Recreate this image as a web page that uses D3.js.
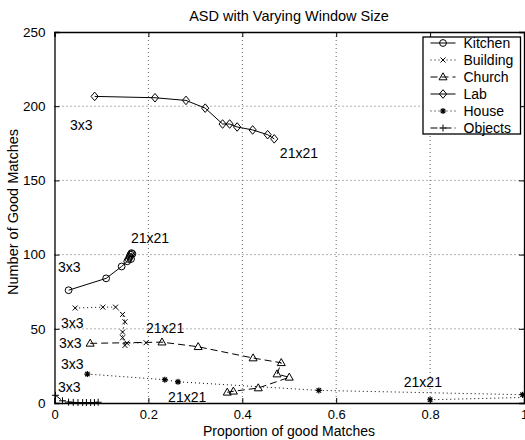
<!DOCTYPE html>
<html><head><meta charset="utf-8">
<script src="https://cdn.jsdelivr.net/npm/d3@7"></script>
<style>
body{margin:0;background:#fff;}
text{font-family:"Liberation Sans",Arial,sans-serif;fill:#000;}
</style></head>
<body><svg id="c" width="525" height="440"></svg>
<script>
const seriesNames = ["Kitchen","Building","Church","Lab","House","Objects"];
const kitchenX = [0.030,0.110,0.143,0.155,0.158,0.160,0.162,0.164,0.166,0.163];
const kitchenY = [76,84,92,95.5,97,98.5,100,101,100.5,97];
const buildingX = [0.044,0.103,0.130,0.145,0.150,0.145,0.145,0.150,0.154,0.195];
const buildingY = [64,64.6,64.6,59.7,54.7,47.8,44,38.8,40.4,40.6];
const churchX = [0.076,0.229,0.306,0.423,0.483,0.474,0.500,0.434,0.381,0.368];
const churchY = [40.2,41,37.9,30.3,27.1,19.5,17.3,10.1,7.9,7.2];
const labX = [0.0855,0.214,0.280,0.321,0.358,0.373,0.389,0.422,0.454,0.468];
const labY = [206.6,205.7,203.9,198.7,188,188,186,184,180.8,178];
const houseX = [0.070,0.235,0.263,0.563,0.997,1.06,1.10,1.05,1.02,0.800];
const houseY = [19.5,15.7,14.3,8.5,5.6,5.2,4.6,4.2,3.9,2.2];
const objectsX = [0.002,0.017,0.030,0.040,0.050,0.060,0.068,0.077,0.085,0.093];
const objectsY = [5.2,1.5,0.6,0.4,0.3,0.3,0.3,0.3,0.3,0.5];
const xTicks = [0,0.2,0.4,0.6,0.8,1];
const yTicks = [0,50,100,150,200,250];
const annText = ["3x3","21x21","3x3","21x21","3x3","21x21","3x3","21x21","3x3","21x21","3x3"];
const annX = [0.033,0.480,0.0075,0.163,0.014,0.195,0.0096,0.242,0.014,0.744,0.0075];
const annY = [184,165,88.3,107.8,50.5,47.2,37,0.7,22.9,10.8,7.4];

const svg = d3.select("#c");
const L=54.5,R=524,T=32,B=403;
const x = d3.scaleLinear().domain([0,1]).range([L,R]);
const y = d3.scaleLinear().domain([0,250]).range([B,T]);

// grid
const g = svg.append("g");
g.selectAll(".gx").data(xTicks.slice(1,-1)).enter().append("line")
 .attr("x1",d=>x(d)).attr("x2",d=>x(d)).attr("y1",T).attr("y2",B)
 .attr("stroke","#666").attr("stroke-width",1).attr("stroke-dasharray","1,3");
g.selectAll(".gy").data(yTicks.slice(1,-1)).enter().append("line")
 .attr("x1",L).attr("x2",R).attr("y1",d=>y(d)).attr("y2",d=>y(d))
 .attr("stroke","#666").attr("stroke-width",1).attr("stroke-dasharray","1,3");

// axes
const fmtX = d=> d===0?"0":(d===1?"1":d3.format(".1f")(d));
const ax = svg.append("g").attr("transform",`translate(0,${B})`)
 .call(d3.axisBottom(x).tickValues(xTicks).tickSize(-5).tickPadding(7).tickFormat(fmtX));
const ax2 = svg.append("g").attr("transform",`translate(0,${T})`)
 .call(d3.axisTop(x).tickValues(xTicks).tickSize(-5).tickFormat(""));
const ay = svg.append("g").attr("transform",`translate(${L},0)`)
 .call(d3.axisLeft(y).tickValues(yTicks).tickSize(-5).tickPadding(9));
const ay2 = svg.append("g").attr("transform",`translate(${R},0)`)
 .call(d3.axisRight(y).tickValues(yTicks).tickSize(-5).tickFormat(""));
[ax,ax2,ay,ay2].forEach(a=>{
  a.select(".domain").attr("stroke","#000").attr("stroke-width",1.3);
  a.selectAll(".tick line").attr("stroke","#000");
  a.selectAll("text").attr("font-size","13.5px").attr("font-family","Liberation Sans, Arial, sans-serif").attr("fill","#000");
});
ax.selectAll("text").attr("font-size","13px");

// clip
svg.append("clipPath").attr("id","clip").append("rect")
 .attr("x",L-6).attr("y",T).attr("width",R-L+6).attr("height",B-T+6);

const series = [
 {xs:kitchenX,ys:kitchenY,dash:null,m:"o"},
 {xs:buildingX,ys:buildingY,dash:"1,3",m:"x"},
 {xs:churchX,ys:churchY,dash:"7,4",m:"^"},
 {xs:labX,ys:labY,dash:null,m:"d"},
 {xs:houseX,ys:houseY,dash:"1,3",m:"*"},
 {xs:objectsX,ys:objectsY,dash:"7,3,1,3",m:"+"}
];

function marker(sel,m){
  const s=sel.append("g");
  if(m==="o") s.append("circle").attr("r",3.4).attr("fill","none").attr("stroke","#000");
  if(m==="x") s.append("path").attr("d","M-2.5,-2.5L2.5,2.5M-2.5,2.5L2.5,-2.5").attr("stroke","#000");
  if(m==="^") s.append("path").attr("d","M0,-4.2L4,2.8L-4,2.8Z").attr("fill","none").attr("stroke","#000");
  if(m==="d") s.append("path").attr("d","M0,-4.3L3.6,0L0,4.3L-3.6,0Z").attr("fill","none").attr("stroke","#000");
  if(m==="*") s.append("path").attr("d","M-3,0L3,0M0,-3L0,3M-2.2,-2.2L2.2,2.2M-2.2,2.2L2.2,-2.2").attr("stroke","#000").attr("stroke-width",1.2);
  if(m==="+") s.append("path").attr("d","M-3.5,0L3.5,0M0,-3.5L0,3.5").attr("stroke","#000");
  return s;
}

const plot = svg.append("g").attr("clip-path","url(#clip)");
series.forEach(s=>{
  const pts = s.xs.map((v,i)=>[v,s.ys[i]]);
  plot.append("path").datum(pts)
    .attr("d",d3.line().x(d=>x(d[0])).y(d=>y(d[1])))
    .attr("fill","none").attr("stroke","#000").attr("stroke-width",1)
    .attr("stroke-dasharray",s.dash);
  pts.forEach(p=>{
    marker(plot,s.m).attr("transform",`translate(${x(p[0])},${y(p[1])})`);
  });
});

// annotations
svg.selectAll(".ann").data(annText).enter().append("text")
 .attr("x",(d,i)=>x(annX[i])).attr("y",(d,i)=>y(annY[i]))
 .attr("font-size","14px").text(d=>d);

// legend
const lg = svg.append("g");
lg.append("rect").attr("x",423).attr("y",37).attr("width",97.5).attr("height",97)
 .attr("fill","#fff").attr("stroke","#000").attr("stroke-width",1.3);
seriesNames.forEach((n,i)=>{
  const yy = 43+i*17;
  lg.append("line").attr("x1",430.5).attr("x2",455.5).attr("y1",yy).attr("y2",yy)
   .attr("stroke","#000").attr("stroke-dasharray",series[i].dash);
  marker(lg,series[i].m).attr("transform",`translate(443,${yy})`);
  lg.append("text").attr("x",463.5).attr("y",yy+5).attr("font-size","14px").text(n);
});

// titles
svg.append("text").attr("x",289).attr("y",21).attr("text-anchor","middle").attr("font-size","14.5px").text("ASD with Varying Window Size");
svg.append("text").attr("x",289).attr("y",436).attr("text-anchor","middle").attr("font-size","14px").text("Proportion of good Matches");
svg.append("text").attr("transform","translate(18,212) rotate(-90)").attr("text-anchor","middle").attr("font-size","14.5px").text("Number of Good Matches");
</script></body></html>
